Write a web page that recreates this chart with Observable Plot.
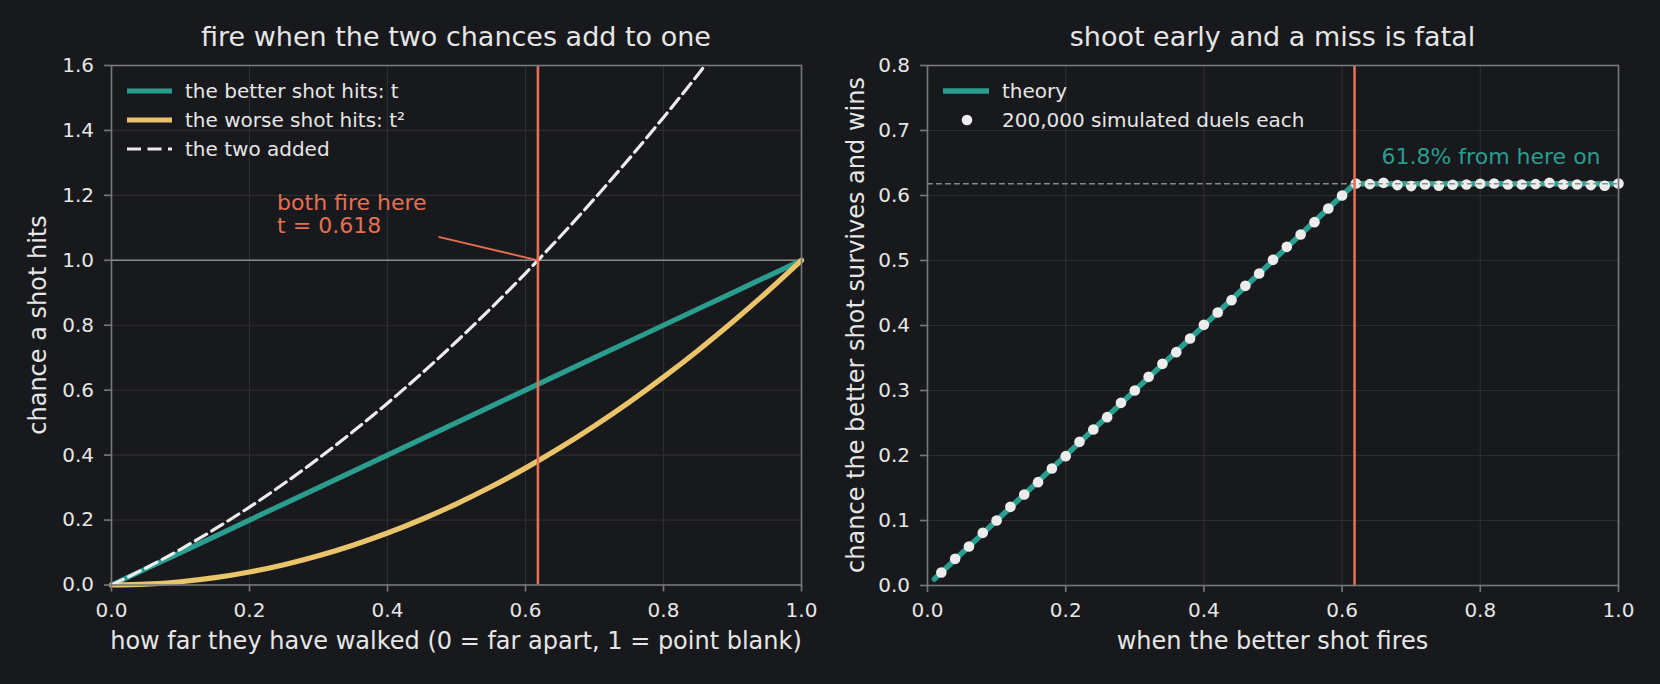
<!DOCTYPE html>
<html><head><meta charset="utf-8">
<script src="https://cdn.jsdelivr.net/npm/d3@7"></script>
<script src="https://cdn.jsdelivr.net/npm/@observablehq/plot@0.6"></script>
<style>
html,body{margin:0;padding:0;background:#18191c;}
#wrap{display:flex;width:1660px;height:684px;background:#18191c;overflow:hidden;}
svg{font-family:"DejaVu Sans",sans-serif;display:block;}
</style></head><body><div id="wrap"></div>
<script>
// ---------- data ----------
const tGrid   = [0,0.05,0.1,0.15,0.2,0.25,0.3,0.35,0.4,0.45,0.5,0.55,0.6,0.65,0.7,0.75,0.8,0.85,0.9,0.95,1.0];
const better  = [0,0.05,0.1,0.15,0.2,0.25,0.3,0.35,0.4,0.45,0.5,0.55,0.6,0.65,0.7,0.75,0.8,0.85,0.9,0.95,1.0];
const worse   = [0,0.0025,0.01,0.0225,0.04,0.0625,0.09,0.1225,0.16,0.2025,0.25,0.3025,0.36,0.4225,0.49,0.5625,0.64,0.7225,0.81,0.9025,1.0];
const added   = [0,0.0525,0.11,0.1725,0.24,0.3125,0.39,0.4725,0.56,0.6525,0.75,0.8525,0.96,1.0725,1.19,1.3125,1.44,1.5725,1.71,1.8525,2.0];
const fireT   = 0.618;
const annoText = ["both fire here\nt = 0.618"];
const annoAt   = [0.24, 1.083];
const annoFrom = [0.474, 1.072];

const theoryX = [0.01, 0.618, 1.0];
const theoryY = [0.01, 0.618, 0.618];
const simX = [0.02,0.04,0.06,0.08,0.10,0.12,0.14,0.16,0.18,0.20,0.22,0.24,0.26,0.28,0.30,0.32,0.34,0.36,0.38,0.40,
              0.42,0.44,0.46,0.48,0.50,0.52,0.54,0.56,0.58,0.60,0.62,0.64,0.66,0.68,0.70,0.72,0.74,0.76,0.78,0.80,
              0.82,0.84,0.86,0.88,0.90,0.92,0.94,0.96,0.98,1.00];
const simY = [0.020,0.041,0.060,0.081,0.100,0.121,0.140,0.159,0.180,0.199,0.221,0.240,0.259,0.281,0.300,0.321,0.341,0.359,0.380,0.401,
              0.420,0.439,0.461,0.480,0.501,0.521,0.540,0.559,0.580,0.600,0.6185,0.6175,0.6195,0.616,0.6145,0.617,0.615,0.6165,0.617,0.618,
              0.6185,0.617,0.617,0.6175,0.6195,0.617,0.617,0.616,0.615,0.6185];
const plateauText = ["61.8% from here on"];
const plateauAt = [0.657, 0.649];

const xTicks  = [0,0.2,0.4,0.6,0.8,1.0];
const yTicksL = [0,0.2,0.4,0.6,0.8,1.0,1.2,1.4,1.6];
const yTicksR = [0,0.1,0.2,0.3,0.4,0.5,0.6,0.7,0.8];

const titles = ["fire when the two chances add to one", "shoot early and a miss is fatal"];
const xLabels = ["how far they have walked (0 = far apart, 1 = point blank)", "when the better shot fires"];
const yLabels = ["chance a shot hits", "chance the better shot survives and wins"];
const legendL = ["the better shot hits: t", "the worse shot hits: t²", "the two added"];
const legendR = ["theory", "200,000 simulated duels each"];

// ---------- style ----------
const BG = "#18191c", GRID = "#2c2d31", FRAME = "#77787c", TXT = "#e6e6e6";
const TEAL = "#2a9d8f", GOLD = "#e9c46a", RED = "#e76f51", WHITE = "#ececec", REF = "#8a8b8f";
const fmt = d3.format(".1f");
const H = 684;
const DOT_R = 5.3;

function axes(yTicks) {
  return [
    Plot.axisX(xTicks, {tickFormat: fmt, tickSize: 7, tickPadding: 10.5, stroke: FRAME, strokeWidth: 1.6, fill: TXT, fontSize: 20, label: null}),
    Plot.axisY(yTicks, {tickFormat: fmt, tickSize: 7, tickPadding: 10.5, stroke: FRAME, strokeWidth: 1.6, fill: TXT, fontSize: 20, label: null})
  ];
}

const left = Plot.plot({
  width: 830, height: H,
  marginLeft: 111, marginRight: 29, marginTop: 65, marginBottom: 99.5,
  x: {domain: [0, 1]},
  y: {domain: [0, 1.6]},
  style: {background: BG, color: TXT, fontFamily: "DejaVu Sans", fontSize: "20px"},
  marks: [
    Plot.gridX(xTicks, {stroke: GRID, strokeOpacity: 1, strokeWidth: 1.2}),
    Plot.gridY(yTicksL, {stroke: GRID, strokeOpacity: 1, strokeWidth: 1.2}),
    Plot.ruleY([1.0], {stroke: REF, strokeWidth: 1.6}),
    Plot.line(tGrid, {x: d => d, y: (d, i) => better[i], stroke: TEAL, strokeWidth: 5.2, curve: "linear"}),
    Plot.line(tGrid, {x: d => d, y: (d, i) => worse[i], stroke: GOLD, strokeWidth: 5.2, curve: "monotone-x"}),
    Plot.line(tGrid, {x: d => d, y: (d, i) => added[i], stroke: WHITE, strokeWidth: 3.2, strokeDasharray: "13,6", curve: "monotone-x", clip: true}),
    Plot.ruleX([fireT], {stroke: RED, strokeWidth: 2.6}),
    Plot.link([0], {x1: () => annoFrom[0], y1: () => annoFrom[1], x2: () => fireT, y2: () => 1.0, stroke: RED, strokeWidth: 1.8}),
    Plot.text(annoText, {x: () => annoAt[0], y: () => annoAt[1], text: d => d, textAnchor: "start", lineAnchor: "bottom", lineHeight: 1.05, fill: RED, fontSize: 22}),
    Plot.frame({stroke: FRAME, strokeWidth: 1.6}),
    ...axes(yTicksL)
  ]
});

const right = Plot.plot({
  width: 830, height: H,
  marginLeft: 97, marginRight: 42, marginTop: 65, marginBottom: 99,
  x: {domain: [0, 1]},
  y: {domain: [0, 0.8]},
  style: {background: BG, color: TXT, fontFamily: "DejaVu Sans", fontSize: "20px"},
  marks: [
    Plot.gridX(xTicks, {stroke: GRID, strokeOpacity: 1, strokeWidth: 1.2}),
    Plot.gridY(yTicksR, {stroke: GRID, strokeOpacity: 1, strokeWidth: 1.2}),
    Plot.line(theoryX, {x: d => d, y: (d, i) => theoryY[i], stroke: TEAL, strokeWidth: 5.5}),
    Plot.dot(simX, {x: d => d, y: (d, i) => simY[i], r: DOT_R, fill: WHITE, stroke: null}),
    Plot.ruleY([fireT], {stroke: REF, strokeWidth: 1.6, strokeDasharray: "5.8,3.2"}),
    Plot.ruleX([fireT], {stroke: RED, strokeWidth: 2.6}),
    Plot.text(plateauText, {x: () => plateauAt[0], y: () => plateauAt[1], text: d => d, textAnchor: "start", lineAnchor: "bottom", fill: TEAL, fontSize: 22}),
    Plot.frame({stroke: FRAME, strokeWidth: 1.6}),
    ...axes(yTicksR)
  ]
});

document.getElementById("wrap").append(left, right);

// ---------- titles, axis labels, legends ----------
function decorate(svgNode, idx, m) {
  const svg = d3.select(svgNode);
  const cx = (m.l + m.r) / 2;
  svg.append("text").attr("x", cx).attr("y", 45.5).attr("text-anchor", "middle")
    .attr("fill", TXT).attr("font-size", 27).text(titles[idx]);
  svg.append("text").attr("x", cx).attr("y", 649).attr("text-anchor", "middle")
    .attr("fill", TXT).attr("font-size", 24).text(xLabels[idx]);
  svg.append("text").attr("transform", `translate(${m.yl},325) rotate(-90)`).attr("text-anchor", "middle")
    .attr("fill", TXT).attr("font-size", 24).text(yLabels[idx]);
}
decorate(left, 0, {l: 111, r: 801, yl: 46});
decorate(right, 1, {l: 97, r: 788, yl: 34});

// left legend
{
  const g = d3.select(left).append("g").attr("font-size", 20).attr("fill", TXT).attr("text-anchor", "start");
  const rows = [91, 120, 149];
  const styles = [{s: TEAL, w: 5.2, d: null}, {s: GOLD, w: 5.2, d: null}, {s: WHITE, w: 3.2, d: "14,6.5"}];
  legendL.forEach((lab, i) => {
    g.append("line").attr("x1", 127).attr("x2", 172).attr("y1", rows[i]).attr("y2", rows[i])
      .attr("stroke", styles[i].s).attr("stroke-width", styles[i].w).attr("stroke-dasharray", styles[i].d);
    g.append("text").attr("x", 185).attr("y", rows[i]).attr("dy", "0.35em").attr("text-anchor", "start").text(lab);
  });
}
// right legend
{
  const g = d3.select(right).append("g").attr("font-size", 20).attr("fill", TXT).attr("text-anchor", "start");
  g.append("line").attr("x1", 113).attr("x2", 159).attr("y1", 91).attr("y2", 91)
    .attr("stroke", TEAL).attr("stroke-width", 5.5);
  g.append("text").attr("x", 172).attr("y", 91).attr("dy", "0.35em").attr("text-anchor", "start").text(legendR[0]);
  g.append("circle").attr("cx", 137).attr("cy", 120).attr("r", DOT_R).attr("fill", WHITE);
  g.append("text").attr("x", 172).attr("y", 120).attr("dy", "0.35em").attr("text-anchor", "start").text(legendR[1]);
}
</script></body></html>
